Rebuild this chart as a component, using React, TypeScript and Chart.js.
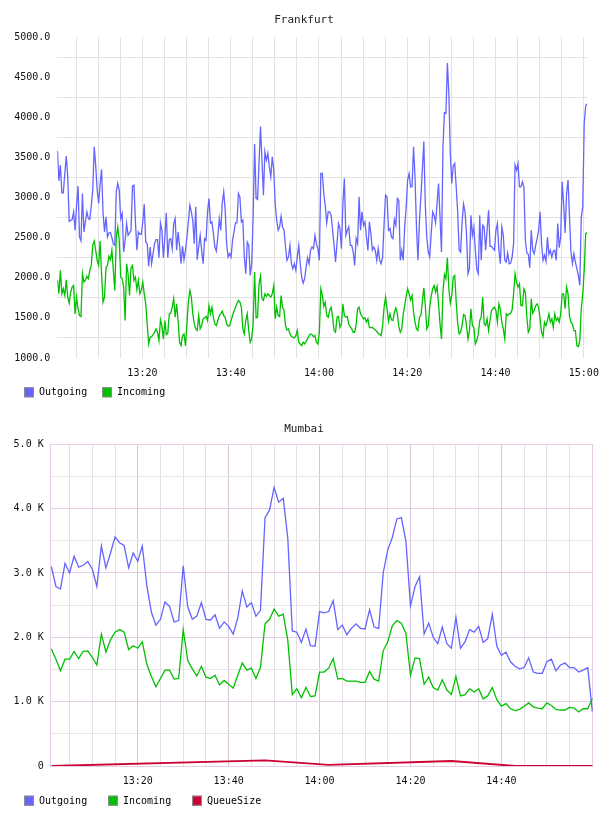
import { useEffect, useRef } from "react";
import { Chart, registerables } from "chart.js";

Chart.register(...registerables);

const FONT = "'DejaVu Sans Mono', monospace";
const BLUE = "#6464ff";
const GREEN = "#00c000";
const RED = "#cc0033";

// Frankfurt traffic, sampled every 20 s from 13:00:45 (times in minutes after 13:00)
const FRA_START = 0.75;
const FRA_STEP = 1 / 3;
const FRA_OUT = [
  3583, 3208, 3404, 3058, 3058, 3300, 3517, 3258, 2704, 2715,
  2725, 2821, 2592, 2900, 3142, 2508, 2458, 3050, 2571, 2700,
  2821, 2740, 2725, 2900, 3092, 3633, 3400, 3100, 2925, 3167,
  3350, 2800, 2571, 2758, 2508, 2558, 2565, 2500, 2420, 2404,
  3071, 3175, 3092, 2738, 2800, 2321, 2458, 2675, 2529, 2560,
  2592, 3142, 3154, 2700, 2342, 2571, 2542, 2542, 2700, 2917,
  2446, 2425, 2142, 2383, 2175, 2300, 2425, 2475, 2475, 2250,
  2683, 2592, 2250, 2500, 2808, 2250, 2475, 2488, 2362, 2675,
  2738, 2342, 2571, 2404, 2175, 2396, 2225, 2342, 2500, 2700,
  2904, 2821, 2708, 2425, 2883, 2225, 2383, 2529, 2342, 2175,
  2488, 2467, 2821, 2988, 2683, 2696, 2550, 2383, 2333, 2508,
  2738, 2592, 2925, 3071, 2846, 2425, 2258, 2300, 2258, 2467,
  2571, 2683, 2683, 3050, 3008, 2696, 2717, 2258, 2050, 2446,
  2404, 2029, 2175, 2758, 3667, 2988, 2975, 3425, 3883, 3467,
  3029, 3571, 3467, 3550, 3383, 3258, 3508, 3342, 2925, 2717,
  2592, 2633, 2767, 2633, 2592, 2383, 2217, 2258, 2404, 2175,
  2113, 2175, 2092, 2258, 2404, 2175, 2008, 1933, 1988, 2133,
  2250, 2175, 2342, 2383, 2362, 2529, 2425, 2362, 2217, 3300,
  3300, 3050, 2904, 2683, 2821, 2821, 2779, 2592, 2404, 2196,
  2425, 2675, 2613, 2363, 2925, 3238, 2529, 2592, 2633, 2404,
  2404, 2321, 2154, 2488, 2425, 3008, 2592, 2821, 2654, 2696,
  2508, 2342, 2696, 2550, 2342, 2383, 2342, 2217, 2363, 2217,
  2175, 2258, 2675, 3029, 3008, 2592, 2613, 2508, 2488, 2725,
  2654, 2988, 2967, 2217, 2342, 2217, 2633, 2883, 3217, 3300,
  3133, 3133, 3633, 3258, 2633, 2217, 2696, 3008, 3342, 3696,
  2904, 2508, 2321, 2258, 2550, 2821, 2779, 2683, 2925, 3175,
  2758, 2321, 3633, 4058, 4050, 4675, 4300, 3550, 3175, 3400,
  3425, 3133, 2821, 2342, 2321, 2696, 2917, 2821, 2550, 2050,
  2113, 2779, 2529, 2633, 2342, 2100, 2050, 2779, 2217, 2654,
  2633, 2342, 2592, 2842, 2392, 2392, 2362, 2342, 2592, 2675,
  2342, 2175, 2633, 2529, 2217, 2196, 2308, 2175, 2183, 2258,
  2425, 3404, 3342, 3425, 3133, 3133, 3196, 3133, 2467, 2308,
  2292, 2125, 2592, 2342, 2300, 2404, 2488, 2592, 2821, 2425,
  2217, 2279, 2204, 2508, 2292, 2342, 2258, 2333, 2342, 2217,
  2675, 2375, 2508, 3196, 2925, 2558, 3050, 3217, 2758, 2321,
  2175, 2300, 2196, 2113, 2029, 1904, 2758, 2883, 3925, 4142,
  4167,
];
const FRA_IN = [
  1975, 1800, 2092, 1800, 1863, 1780, 1975, 1758, 1683, 1820,
  1883, 1904, 1550, 1758, 1613, 1529, 1517, 2050, 1946, 1967,
  2017, 1988, 2092, 2154, 2404, 2458, 2342, 2217, 2154, 2458,
  2050, 1696, 1758, 2125, 2154, 2267, 2225, 2342, 2092, 1842,
  2508, 2633, 2467, 2008, 1988, 1883, 1467, 2175, 2050, 1780,
  2129, 2154, 1967, 2008, 1850, 1967, 1800, 1842, 1946, 1800,
  1675, 1425, 1175, 1258, 1267, 1292, 1321, 1363, 1321, 1217,
  1475, 1404, 1238, 1467, 1292, 1308, 1550, 1558, 1633, 1738,
  1508, 1675, 1467, 1196, 1154, 1279, 1300, 1154, 1425, 1700,
  1842, 1758, 1550, 1425, 1363, 1342, 1529, 1363, 1404, 1488,
  1500, 1517, 1467, 1654, 1550, 1633, 1500, 1425, 1404, 1467,
  1529, 1550, 1583, 1529, 1508, 1425, 1396, 1404, 1467, 1529,
  1583, 1633, 1683, 1717, 1696, 1633, 1363, 1300, 1467, 1550,
  1342, 1196, 1238, 1425, 2071, 1500, 1508, 1925, 2021, 1738,
  1717, 1800, 1767, 1800, 1779, 1758, 1800, 1904, 1488, 1633,
  1529, 1517, 1779, 1633, 1592, 1404, 1350, 1363, 1300, 1267,
  1258, 1250, 1279, 1342, 1196, 1175, 1154, 1196, 1175, 1208,
  1238, 1279, 1300, 1292, 1267, 1279, 1196, 1175, 1321, 1863,
  1790, 1642, 1696, 1529, 1508, 1592, 1633, 1508, 1342, 1321,
  1508, 1517, 1383, 1425, 1675, 1529, 1508, 1517, 1417, 1392,
  1363, 1321, 1321, 1417, 1613, 1633, 1550, 1517, 1488, 1500,
  1446, 1488, 1383, 1375, 1383, 1363, 1350, 1333, 1308, 1292,
  1279, 1404, 1633, 1758, 1613, 1458, 1550, 1475, 1467, 1571,
  1625, 1550, 1392, 1321, 1363, 1550, 1654, 1767, 1863, 1800,
  1725, 1779, 1571, 1446, 1363, 1342, 1508, 1529, 1700, 1875,
  1654, 1363, 1404, 1633, 1767, 1863, 1904, 1821, 1892, 1675,
  1425, 1238, 1821, 2042, 1988, 2250, 1863, 1683, 1779, 2008,
  2029, 1696, 1433, 1300, 1321, 1404, 1542, 1529, 1404, 1238,
  1342, 1613, 1404, 1383, 1175, 1217, 1300, 1467, 1508, 1758,
  1425, 1404, 1488, 1342, 1467, 1592, 1613, 1633, 1592, 1446,
  1675, 1613, 1446, 1363, 1238, 1550, 1529, 1550, 1558, 1600,
  1800, 2050, 1946, 1883, 1925, 1654, 1654, 1863, 1821, 1508,
  1321, 1363, 1738, 1558, 1592, 1654, 1675, 1633, 1488, 1321,
  1267, 1446, 1404, 1467, 1550, 1446, 1488, 1383, 1550, 1467,
  1500, 1446, 1550, 1800, 1800, 1613, 1888, 1800, 1521, 1446,
  1425, 1342, 1342, 1154, 1142, 1217, 1613, 1800, 2092, 2550,
  2563,
];

// Mumbai traffic, one sample per minute from 13:01
const MUM_START = 1;
const MUM_STEP = 1;
const MUM_OUT = [
  3100, 2790, 2750, 3150, 3000, 3260, 3090, 3120, 3180, 3060,
  2790, 3420, 3080, 3310, 3560, 3470, 3430, 3080, 3310, 3180,
  3420, 2800, 2390, 2190, 2280, 2550, 2480, 2240, 2260, 3110,
  2470, 2280, 2330, 2540, 2280, 2270, 2350, 2140, 2240, 2170,
  2050, 2300, 2720, 2470, 2540, 2330, 2420, 3860, 3980, 4330,
  4100, 4160, 3550, 2100, 2080, 1920, 2130, 1870, 1860, 2400,
  2380, 2400, 2570, 2120, 2190, 2040, 2140, 2210, 2140, 2130,
  2430, 2160, 2140, 3000, 3360, 3550, 3840, 3860, 3490, 2490,
  2790, 2940, 2050, 2220, 2000, 1900, 2160, 1900, 1830, 2310,
  1830, 1930, 2120, 2080, 2170, 1920, 1980, 2360, 1860, 1720,
  1770, 1620, 1550, 1510, 1530, 1680, 1460, 1440, 1440, 1620,
  1660, 1480, 1570, 1600, 1530, 1530, 1460, 1490, 1530, 850,
];
const MUM_IN = [
  1820, 1660, 1480, 1660, 1660, 1780, 1670, 1780, 1790, 1690,
  1570, 2050, 1770, 1960, 2080, 2120, 2080, 1810, 1870, 1830,
  1930, 1580, 1390, 1230, 1360, 1490, 1490, 1350, 1360, 2120,
  1640, 1510, 1400, 1550, 1380, 1360, 1410, 1260, 1330, 1270,
  1210, 1410, 1600, 1490, 1520, 1360, 1530, 2210, 2280, 2440,
  2330, 2360, 1960, 1110, 1200, 1060, 1220, 1080, 1090, 1460,
  1460, 1520, 1670, 1350, 1360, 1320, 1320, 1320, 1300, 1300,
  1470, 1350, 1320, 1790, 1930, 2180, 2260, 2220, 2060, 1410,
  1680, 1670, 1270, 1380, 1220, 1180, 1340, 1180, 1110, 1390,
  1090, 1110, 1200, 1150, 1200, 1040, 1090, 1220, 1030, 930,
  970, 890, 860, 880, 930, 980, 920, 900, 890, 980,
  940, 880, 870, 870, 910, 900, 840, 890, 890, 1050,
];
// Queue size is reported sparsely
const MUM_Q_T = [1, 48, 62, 89, 103, 120];
const MUM_Q = [0, 88, 18, 78, 0, 0];

const FRA_TIMES = FRA_OUT.map((_, i) => FRA_START + i * FRA_STEP);
const MUM_TIMES = MUM_OUT.map((_, i) => MUM_START + i * MUM_STEP);

const clock = (m: number) => {
  const total = 13 * 60 + Math.round(m);
  const h = Math.floor(total / 60);
  const mm = total % 60;
  return `${h}:${String(mm).padStart(2, "0")}`;
};

const tickFont = { family: FONT, size: 10 };

// Legend row under the plot: a bordered colour swatch followed by the series name
const boxLegend = {
  id: "boxLegend",
  afterDraw(chart: any, _args: any, opts: any) {
    const { ctx } = chart;
    ctx.save();
    ctx.font = `10px ${FONT}`;
    ctx.textBaseline = "middle";
    ctx.textAlign = "left";
    let x = opts.x;
    for (const ds of chart.data.datasets) {
      ctx.fillStyle = ds.borderColor;
      ctx.fillRect(x, opts.y, 10, 10);
      ctx.strokeStyle = "#8c8c8c";
      ctx.lineWidth = 1;
      ctx.strokeRect(x + 0.5, opts.y + 0.5, 9, 9);
      ctx.fillStyle = "#000";
      ctx.fillText(ds.label, x + 15, opts.y + 5.5);
      x += opts.spacing;
    }
    ctx.restore();
  },
};

const titleOpts = (text: string, top: number, bottom: number) => ({
  display: true,
  text,
  color: "#222",
  font: { family: FONT, size: 11, weight: "normal" },
  padding: { top, bottom },
});

const lineDs = (label: string, data: any[], color: string, width = 1.3) => ({
  label,
  data,
  borderColor: color,
  backgroundColor: color,
  borderWidth: width,
  pointRadius: 0,
  tension: 0,
  fill: false,
  xAxisID: "x",
  yAxisID: "y",
});

const rightPad = (w: number) => ({
  type: "linear",
  position: "right",
  display: true,
  grid: { display: false },
  border: { display: false },
  ticks: { display: false },
  afterFit: (s: any) => {
    s.width = w;
  },
});

function frankfurtConfig(): any {
  const GRID = "#e2e2e2";
  return {
    type: "line",
    data: {
      labels: FRA_TIMES,
      datasets: [lineDs("Outgoing", FRA_OUT, BLUE), lineDs("Incoming", FRA_IN, GREEN)],
    },
    plugins: [boxLegend],
    options: {
      responsive: false,
      animation: false,
      events: [],
      layout: { padding: { left: 0, right: 0, top: 0, bottom: 20 } },
      plugins: {
        title: titleOpts("Frankfurt", 13.4, 10.4),
        legend: { display: false },
        tooltip: { enabled: false },
        boxLegend: { x: 24, y: 387.3, spacing: 78 },
      },
      scales: {
        x: {
          type: "linear",
          min: 0.72,
          max: 120.78,
          border: { display: false },
          grid: { color: GRID, drawTicks: false },
          ticks: {
            stepSize: 5,
            includeBounds: false,
            autoSkip: false,
            maxRotation: 0,
            padding: 9,
            color: "#111",
            font: tickFont,
            callback: (v: number) => (v % 20 === 0 ? clock(v) : ""),
          },
          afterFit: (s: any) => {
            s.height = 30;
          },
        },
        y: {
          type: "linear",
          min: 1000,
          max: 5000,
          border: { display: false },
          grid: {
            drawTicks: false,
            color: (c: any) => (c.tick && c.tick.value % 500 === 0 ? "rgba(0,0,0,0)" : GRID),
          },
          ticks: {
            stepSize: 250,
            autoSkip: false,
            padding: 7,
            color: "#111",
            font: tickFont,
            callback: (v: number) => (v % 500 === 0 ? v.toFixed(1) : ""),
          },
          afterFit: (s: any) => {
            s.width = 57.3;
          },
        },
        pad: rightPad(14.7),
      },
    },
  };
}

function mumbaiConfig(): any {
  const H_MAJOR = "#e6cde6";
  const H_MINOR = "#e6e6e6";
  const V_MAJOR = "#dac4da";
  const V_MINOR = "#e6dee6";
  const EDGE = "#e6cde6";
  const queue = MUM_Q.map((v, i) => ({ x: MUM_Q_T[i], y: v }));
  return {
    type: "line",
    data: {
      labels: MUM_TIMES,
      datasets: [
        lineDs("Outgoing", MUM_OUT, BLUE),
        lineDs("Incoming", MUM_IN, GREEN),
        lineDs("QueueSize", queue, RED, 1.8),
      ],
    },
    plugins: [boxLegend],
    options: {
      responsive: false,
      animation: false,
      events: [],
      layout: { padding: { left: 0, right: 0, top: 0, bottom: 20 } },
      plugins: {
        title: titleOpts("Mumbai", 14.4, 8.7),
        legend: { display: false },
        tooltip: { enabled: false },
        boxLegend: { x: 24, y: 387.7, spacing: 84 },
      },
      scales: {
        x: {
          type: "linear",
          min: 0.85,
          max: 120.22,
          border: { display: true, color: EDGE },
          grid: {
            drawTicks: false,
            color: (c: any) => {
              const v = c.tick ? c.tick.value : 0;
              if (v >= 120) return EDGE;
              return v % 20 === 0 ? V_MAJOR : V_MINOR;
            },
          },
          ticks: {
            stepSize: 5,
            includeBounds: false,
            autoSkip: false,
            maxRotation: 0,
            padding: 9,
            color: "#111",
            font: tickFont,
            callback: (v: number) => (v % 20 === 0 && v < 120 ? clock(v) : ""),
          },
          afterFit: (s: any) => {
            s.height = 30;
          },
        },
        y: {
          type: "linear",
          min: 0,
          max: 5000,
          border: { display: true, color: EDGE },
          grid: {
            drawTicks: false,
            color: (c: any) => (c.tick && c.tick.value % 1000 === 0 ? H_MAJOR : H_MINOR),
          },
          ticks: {
            stepSize: 500,
            autoSkip: false,
            padding: 7,
            color: "#111",
            font: tickFont,
            callback: (v: number) =>
              v % 1000 === 0 ? (v === 0 ? "0" : `${(v / 1000).toFixed(1)} K`) : "",
          },
          afterFit: (s: any) => {
            s.width = 50.7;
          },
        },
        pad: rightPad(14.7),
      },
    },
  };
}

function ChartCanvas({ build }: { build: () => any }) {
  const ref = useRef<HTMLCanvasElement>(null);
  useEffect(() => {
    if (!ref.current) return;
    const chart = new Chart(ref.current, build());
    return () => chart.destroy();
  }, [build]);
  return (
    <canvas
      ref={ref}
      width={608}
      height={408}
      style={{ display: "block", width: 608, height: 408 }}
    />
  );
}

export default function App() {
  return (
    <div
      style={{
        position: "absolute",
        left: 0,
        top: 0,
        width: 608,
        height: 816,
        background: "#fff",
      }}
    >
      <ChartCanvas build={frankfurtConfig} />
      <ChartCanvas build={mumbaiConfig} />
    </div>
  );
}
